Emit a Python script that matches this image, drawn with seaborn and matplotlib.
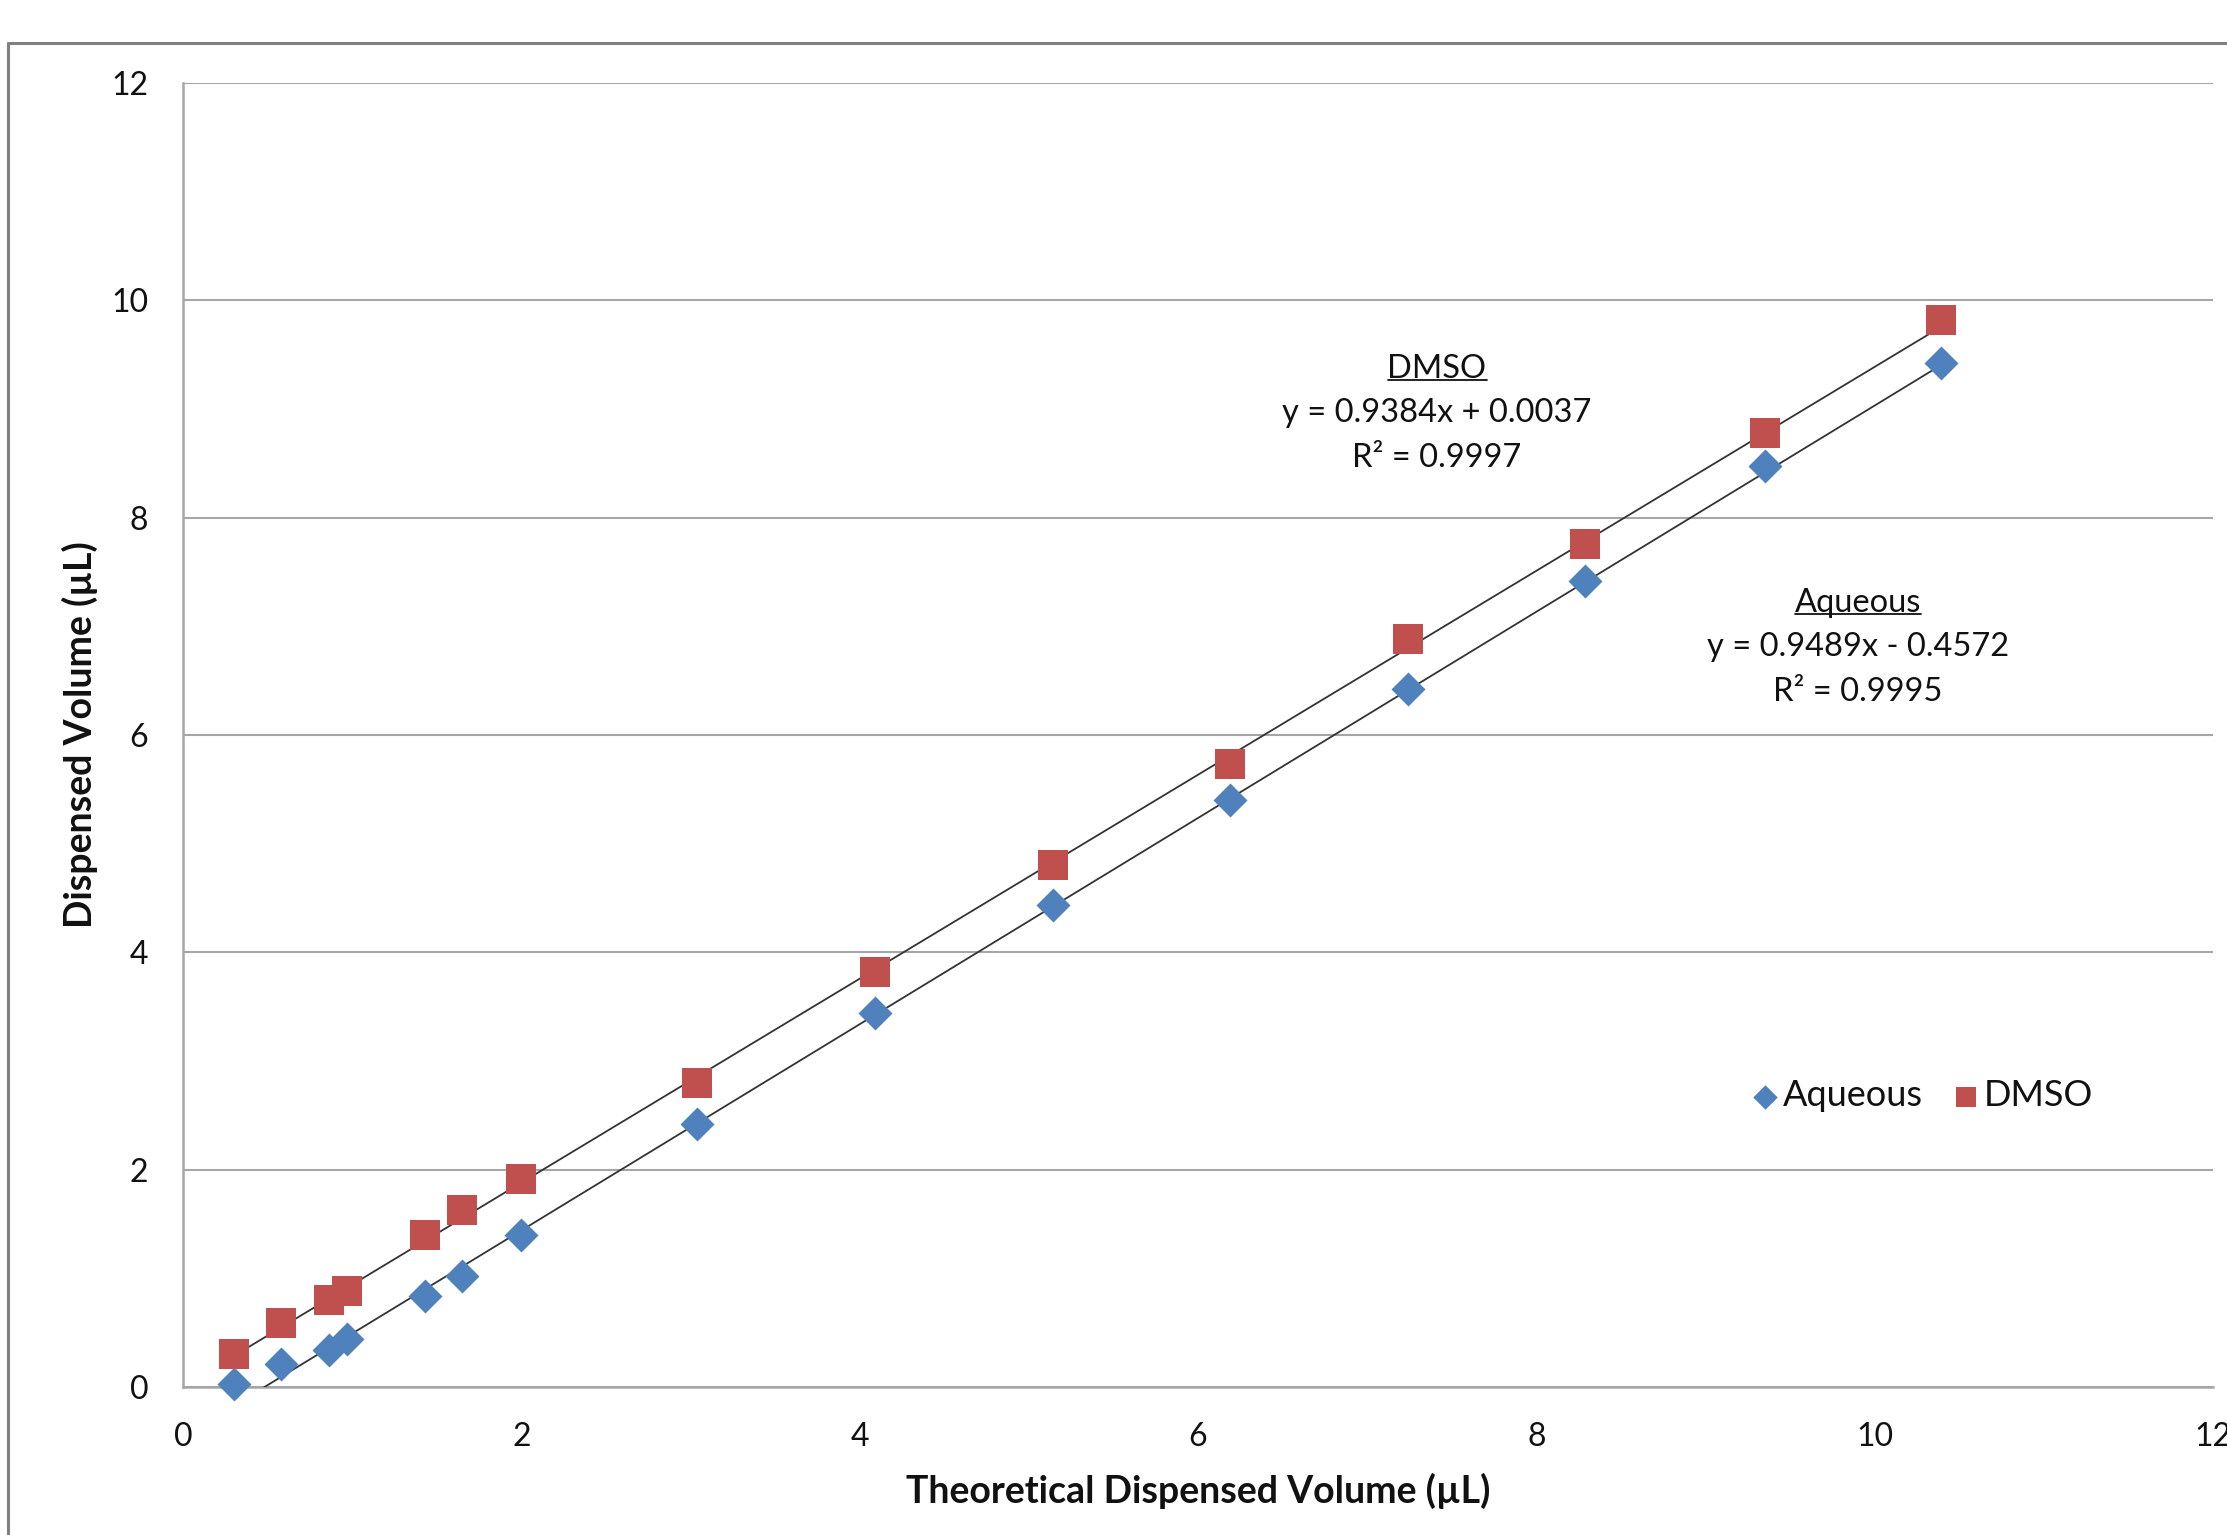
import numpy as np
import pandas as pd
import seaborn as sns
import matplotlib
matplotlib.use("Agg")
import matplotlib.pyplot as plt
from matplotlib.lines import Line2D

# ---------------- data ----------------
theoretical = [0.30, 0.58, 0.865, 0.97, 1.43, 1.65, 2.0, 3.04, 4.09, 5.14, 6.19, 7.24, 8.29, 9.35, 10.39]
aqueous = [0.03, 0.21, 0.34, 0.44, 0.84, 1.02, 1.40, 2.42, 3.44, 4.44, 5.40, 6.42, 7.42, 8.48, 9.42]
dmso = [0.30, 0.59, 0.80, 0.88, 1.40, 1.63, 1.91, 2.80, 3.82, 4.80, 5.73, 6.88, 7.76, 8.78, 9.82]

series_names = ["Aqueous", "DMSO"]
fit_slopes = {"Aqueous": 0.9489, "DMSO": 0.9384}
fit_intercepts = {"Aqueous": -0.4572, "DMSO": 0.0037}
fit_r2 = {"Aqueous": 0.9995, "DMSO": 0.9997}

x_ticks = [0, 2, 4, 6, 8, 10, 12]
y_ticks = [0, 2, 4, 6, 8, 10, 12]
x_label = "Theoretical Dispensed Volume (µL)"
y_label = "Dispensed Volume (µL)"

df = pd.concat([
    pd.DataFrame({"Theoretical": theoretical, "Dispensed": aqueous, "Solvent": "Aqueous"}),
    pd.DataFrame({"Theoretical": theoretical, "Dispensed": dmso, "Solvent": "DMSO"}),
])

# ---------------- style ----------------
sns.set_theme(style="white")
plt.rcParams["font.family"] = ["Lato", "DejaVu Sans"]
text_color = "#111111"
grid_color = "#a6a6a6"
colors = {"Aqueous": "#4F81BD", "DMSO": "#C0504D"}
markers = {"Aqueous": "D", "DMSO": "s"}
msizes = {"Aqueous": 300, "DMSO": 440}

fig = plt.figure(figsize=(22.27, 15.35), dpi=100)
ax = fig.add_axes([183 / 2227, 1 - 1387 / 1535, (2213 - 183) / 2227, (1387 - 83) / 1535])

# trendlines
for name in series_names:
    sub = df[df.Solvent == name]
    xs = np.array([sub.Theoretical.min(), sub.Theoretical.max()])
    ys = fit_slopes[name] * xs + fit_intercepts[name]
    sns.lineplot(x=xs, y=ys, ax=ax, color="#333333", linewidth=1.3, zorder=3, legend=False)

# scatter points
for name in series_names:
    sub = df[df.Solvent == name]
    sns.scatterplot(data=sub, x="Theoretical", y="Dispensed", ax=ax, marker=markers[name],
                    s=msizes[name], color=colors[name], linewidth=0, zorder=5,
                    clip_on=False, label=name)

ax.set_xlim(0, 12)
ax.set_ylim(0, 12)
ax.set_xticks(x_ticks)
ax.set_yticks(y_ticks)
ax.set_xticklabels([str(t) for t in x_ticks])
ax.set_yticklabels([str(t) for t in y_ticks])
ax.tick_params(axis="both", length=0, labelsize=23, colors=text_color)
ax.tick_params(axis="x", pad=25)
ax.tick_params(axis="y", pad=25)

ax.grid(axis="y", color=grid_color, linewidth=1.5)
ax.grid(axis="x", visible=False)
for side in ["top", "right"]:
    ax.spines[side].set_visible(False)
for side in ["left", "bottom"]:
    ax.spines[side].set_color(grid_color)
    ax.spines[side].set_linewidth(1.8)

ax.set_xlabel(x_label, fontsize=27, fontweight="bold", color=text_color)
ax.set_ylabel(y_label, fontsize=27, fontweight="bold", color=text_color)
ax.xaxis.set_label_coords(0.5, -0.066)
ax.yaxis.set_label_coords(-0.042, 0.5)

# legend
handles, labels = ax.get_legend_handles_labels()
leg = ax.legend(handles, labels, loc="center", bbox_to_anchor=((1921 - 183) / 2030, (1387 - 1096) / 1304),
                ncol=2, frameon=False, fontsize=26, markerscale=0.72, handletextpad=0.05,
                columnspacing=0.75, handlelength=0.9)
for t in leg.get_texts():
    t.set_color(text_color)

# equation annotations
ann_pos = {"DMSO": (1437, 369), "Aqueous": (1858, 603)}
line_gap = 44
ann_size = 23.5
title_texts = []
for name in series_names:
    px, py = ann_pos[name]
    fx = px / 2227
    t = fig.text(fx, 1 - py / 1535, name, ha="center", va="center", fontsize=ann_size, color=text_color)
    title_texts.append(t)
    b = fit_intercepts[name]
    sign = "+" if b >= 0 else "-"
    eq = f"y = {fit_slopes[name]:.4f}x {sign} {abs(b):.4f}"
    fig.text(fx, 1 - (py + line_gap) / 1535, eq, ha="center", va="center", fontsize=ann_size, color=text_color)
    fig.text(fx, 1 - (py + 2 * line_gap + 1) / 1535, f"R² = {fit_r2[name]:.4f}", ha="center", va="center",
             fontsize=ann_size, color=text_color)

# outer chart frame (left and top edges visible)
frame_color = "#808080"
fig.add_artist(Line2D([8 / 2227, 8 / 2227], [-0.05, 1 - 43 / 1535], transform=fig.transFigure,
                      color=frame_color, linewidth=2.2))
fig.add_artist(Line2D([8 / 2227, 1.05], [1 - 43 / 1535, 1 - 43 / 1535], transform=fig.transFigure,
                      color=frame_color, linewidth=2.2))

# underline the annotation titles
fig.canvas.draw()
renderer = fig.canvas.get_renderer()
for t in title_texts:
    bb = t.get_window_extent(renderer)
    yb = bb.y0 + 4
    fig.add_artist(Line2D([bb.x0 / 2227, bb.x1 / 2227], [yb / 1535, yb / 1535], transform=fig.transFigure,
                          color=text_color, linewidth=1.3))

fig.savefig("out.png", dpi=100, facecolor="white")
